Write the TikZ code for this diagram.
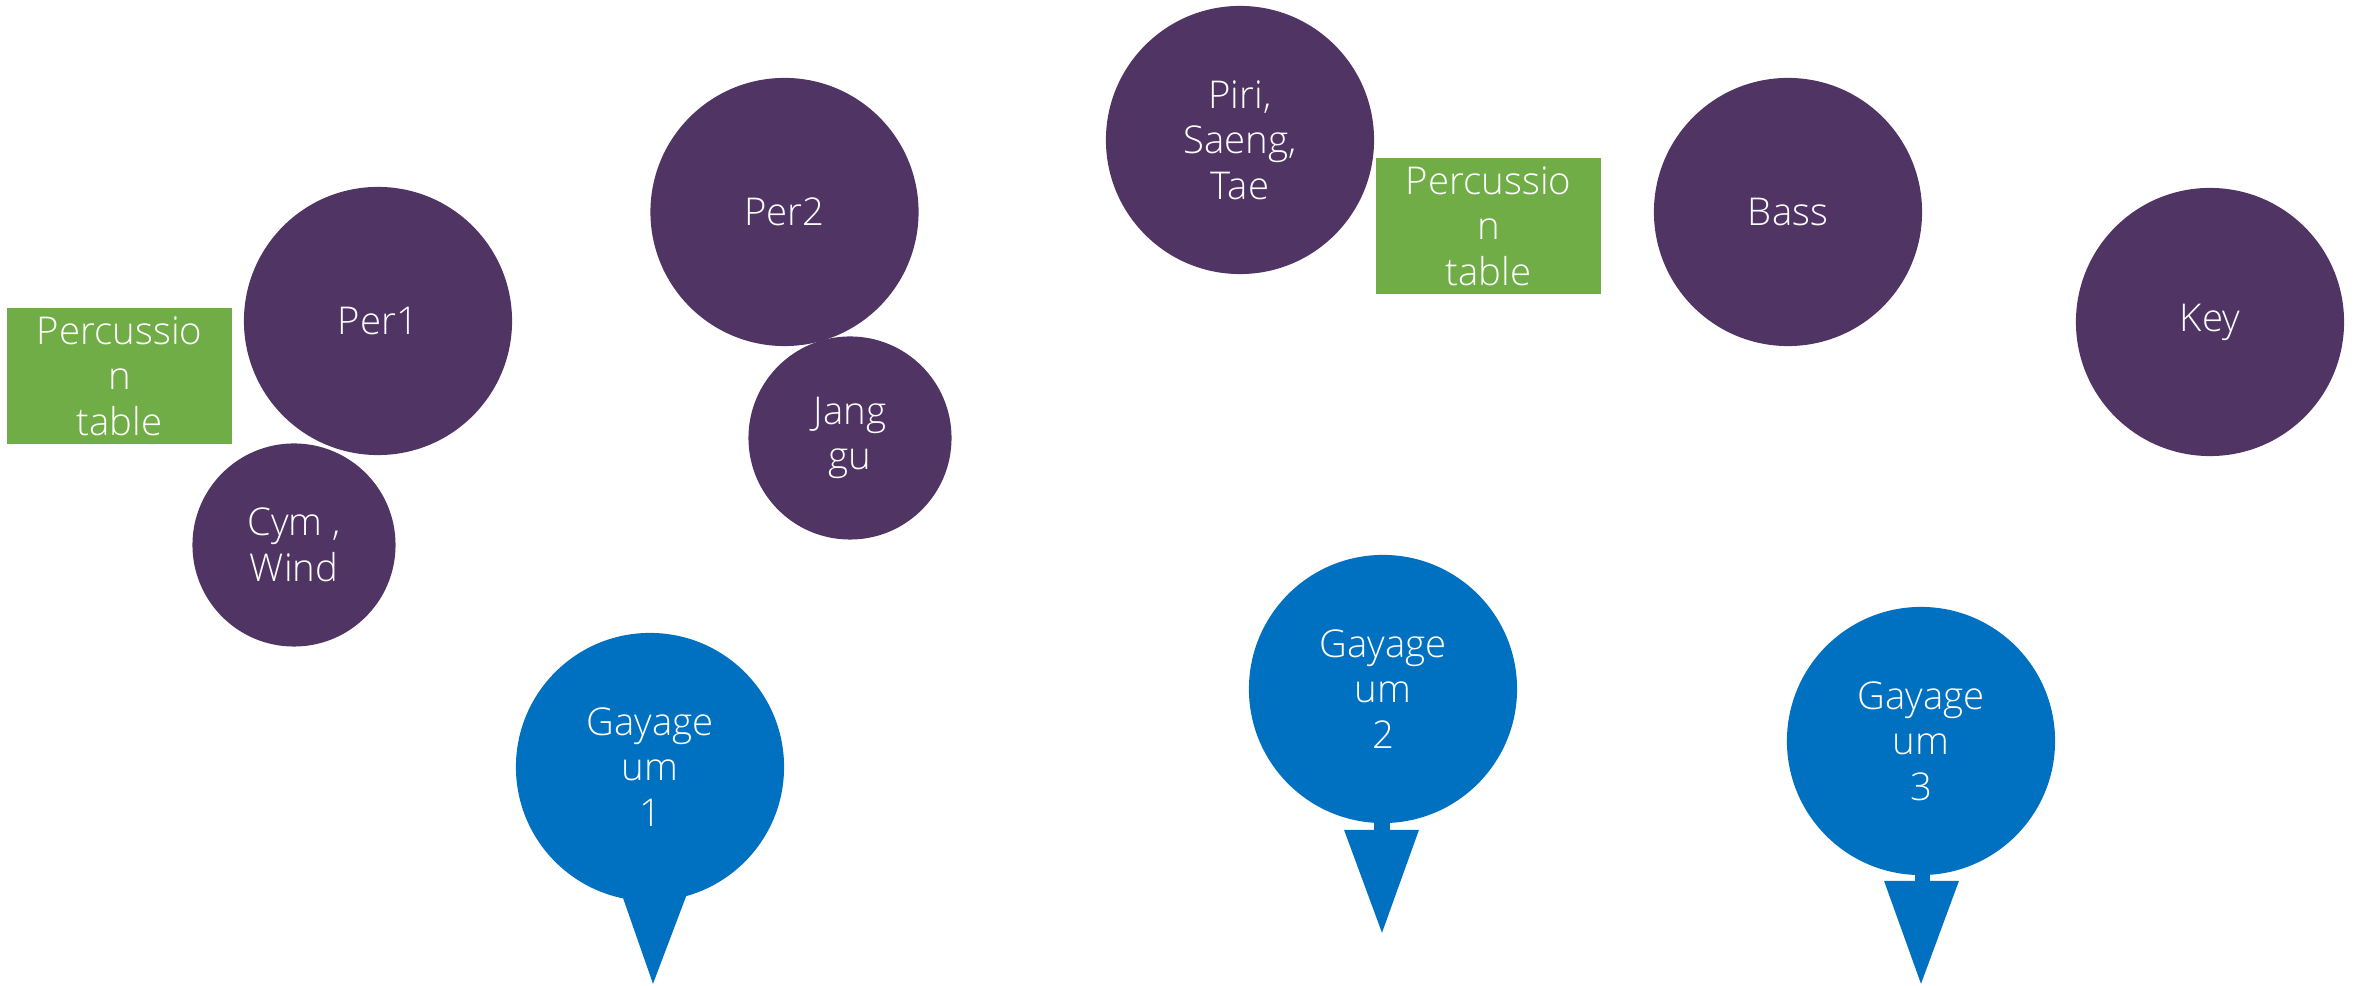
\documentclass[tikz,border=0pt]{standalone}
\usepackage{fontspec}
\setmainfont{Open Sans}[UprightFont=* Light]
\usepackage{xcolor}
\usepackage{tikz}
\usetikzlibrary{positioning,calc}
\definecolor{seatpurple}{RGB}{80,52,100}
\definecolor{gayablue}{RGB}{0,112,192}
\definecolor{tablegreen}{RGB}{112,173,71}
\newcommand{\seatfont}{\fontsize{10.9}{12.9}\selectfont}

\begin{document}
\begin{tikzpicture}[x=0.01cm, y=-0.01cm,
    bigseat/.style={circle, fill=seatpurple, minimum size=2.68cm, inner sep=0pt, text=white, align=center, font=\seatfont},
    smallseat/.style={bigseat, minimum size=2.03cm},
    gayaseat/.style={bigseat, fill=gayablue},
    perctable/.style={rectangle, fill=tablegreen, minimum width=2.25cm, minimum height=1.36cm, inner sep=0pt, text=white, align=center, font=\seatfont}]
    \useasboundingbox (0,0) rectangle (2362,986);

    % Left percussion group
    \node[perctable] (table1) at (119.5,376) {Percussio\\n\\table};
    \node[bigseat] (per1) at (378,321) {Per1};
    \node[smallseat] (cym) at (294,545) {Cym ,\\Wind};

    % Per2 and Janggu
    \node[bigseat] (per2) at (784.5,212) {Per2};
    \node[smallseat] (janggu) at (850,438) {Jang\\gu};

    % Winds and second table
    \node[bigseat] (piri) at (1240,140) {Piri,\\Saeng,\\Tae};
    \node[perctable] (table2) at (1488.5,226) {Percussio\\n\\table};

    % Bass and Key
    \node[bigseat] (bass) at (1788,212) {Bass};
    \node[bigseat] (key) at (2210,322) {Key};

    % Gayageum pins
    \node[gayaseat] (gaya1) at (650,767) {Gayage\\um\\1};
    \node[gayaseat] (gaya2) at (1383,689) {Gayage\\um\\2};
    \node[gayaseat] (gaya3) at (1921,741) {Gayage\\um\\3};

    \fill[gayablue] ($(gaya1.south)+(-33,-21)$) -- ($(gaya1.south)+(42,-21)$) -- ($(gaya1.south)+(3,82)$) -- cycle;
    \fill[gayablue] ($(gaya2.south)+(-9,-3)$) rectangle ($(gaya2.south)+(7,7)$);
    \fill[gayablue] ($(gaya2.south)+(-39,6)$) -- ($(gaya2.south)+(36,6)$) -- ($(gaya2.south)+(-1,109)$) -- cycle;
    \fill[gayablue] ($(gaya3.south)+(-6,-3)$) rectangle ($(gaya3.south)+(9,6)$);
    \fill[gayablue] ($(gaya3.south)+(-37,5)$) -- ($(gaya3.south)+(38,5)$) -- ($(gaya3.south)+(0,108)$) -- cycle;
\end{tikzpicture}
\end{document}
